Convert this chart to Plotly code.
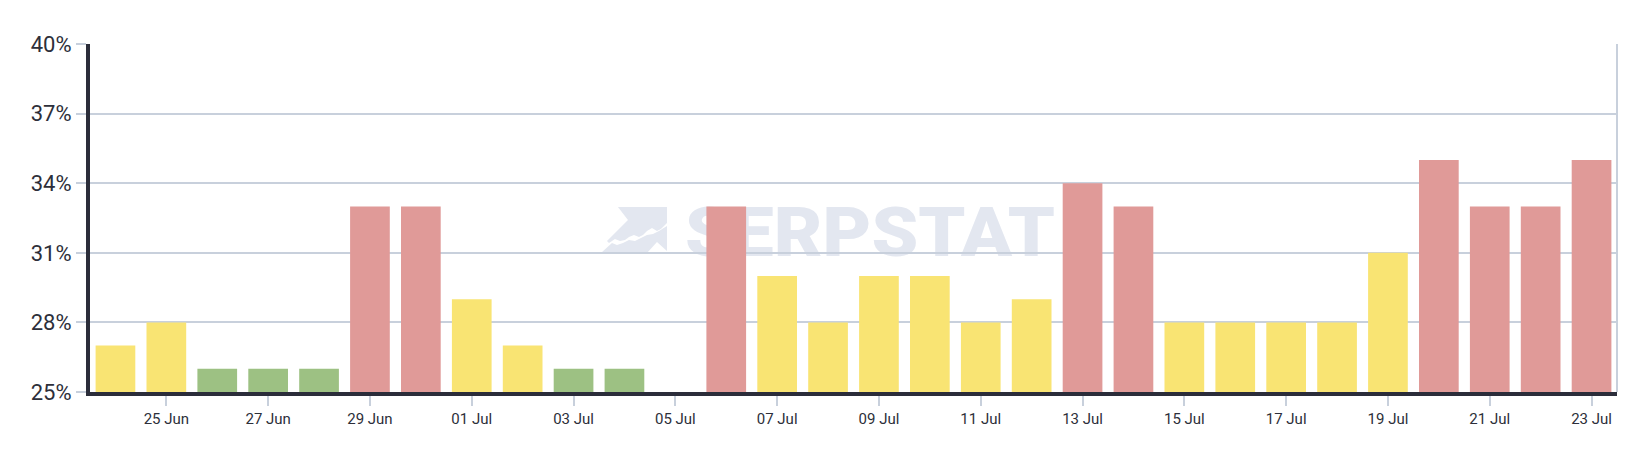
import plotly.graph_objects as go
import base64

dates = ["2023-06-24","2023-06-25","2023-06-26","2023-06-27","2023-06-28","2023-06-29","2023-06-30",
         "2023-07-01","2023-07-02","2023-07-03","2023-07-04","2023-07-05","2023-07-06","2023-07-07",
         "2023-07-08","2023-07-09","2023-07-10","2023-07-11","2023-07-12","2023-07-13","2023-07-14",
         "2023-07-15","2023-07-16","2023-07-17","2023-07-18","2023-07-19","2023-07-20","2023-07-21",
         "2023-07-22","2023-07-23"]
values = [27,28,26,26,26,33,33,29,27,26,26,None,33,30,28,30,30,28,29,34,33,28,28,28,28,31,35,33,33,35]
levels = ["mid","mid","low","low","low","high","high","mid","mid","low","low","none","high","mid",
          "mid","mid","mid","mid","mid","high","high","mid","mid","mid","mid","mid","high","high",
          "high","high"]
level_colors = {"low": "#9dc183", "mid": "#f9e473", "high": "#e09a98", "none": "#ffffff"}
tick_vals = ["2023-06-25","2023-06-27","2023-06-29","2023-07-01","2023-07-03","2023-07-05","2023-07-07",
             "2023-07-09","2023-07-11","2023-07-13","2023-07-15","2023-07-17","2023-07-19","2023-07-21",
             "2023-07-23"]
tick_text = ["25 Jun","27 Jun","29 Jun","01 Jul","03 Jul","05 Jul","07 Jul","09 Jul","11 Jul","13 Jul",
             "15 Jul","17 Jul","19 Jul","21 Jul","23 Jul"]
y_ticks = [25, 28, 31, 34, 37, 40]
y_tick_text = ["25%", "28%", "31%", "34%", "37%", "40%"]

fig = go.Figure()
fig.add_trace(go.Bar(
    x=dates, y=values,
    marker=dict(color=[level_colors[l] for l in levels], line=dict(width=0)),
    hoverinfo="skip",
))

svg = '''<svg xmlns="http://www.w3.org/2000/svg" width="470" height="62" viewBox="0 0 470 62">
<g fill="#e3e7f0">
<path d="M23 7 L72 7 L72 23 L66 29 L62 31 L57 28 L52 31 L48 35 L44 37 L39 35 L34 37 L30 40 L25 41 L20 39 L14 43 L12 41 L33 20 Z"/>
<path d="M6 53 L17 43 L22 45 L28 43 L34 40 L40 41 L46 38 L52 35 L58 34 L64 31 L72 26 L72 51 L62 42 L52 53 Z"/>
<text x="90" y="56" font-family="Roboto, Arial, sans-serif" font-weight="900" font-size="68" textLength="370" lengthAdjust="spacingAndGlyphs">SERPSTAT</text>
</g></svg>'''
uri = "data:image/svg+xml;base64," + base64.b64encode(svg.encode()).decode()

fig.update_layout(
    width=1646, height=456,
    margin=dict(l=90, r=29, t=44, b=64),
    paper_bgcolor="white", plot_bgcolor="white",
    bargap=0.22, showlegend=False,
    font=dict(family="Roboto, Arial, sans-serif", color="#2d2f3a"),
    images=[dict(source=uri, xref="paper", yref="paper", x=0.3307, y=0.5517,
                 sizex=0.3078, sizey=0.178, xanchor="left", yanchor="top",
                 sizing="stretch", layer="below")],
    shapes=[dict(type="line", xref="paper", yref="paper", x0=1, x1=1, y0=0, y1=1,
                 line=dict(color="#c8d0dc", width=2))],
)
fig.update_xaxes(
    type="date", range=["2023-06-23 12:00", "2023-07-23 12:00"],
    tickvals=tick_vals, ticktext=tick_text,
    ticks="outside", ticklen=10, tickcolor="#c8d0dc", tickwidth=2,
    showline=True, linecolor="#2b2d3a", linewidth=4,
    showgrid=False, tickfont=dict(size=15, color="#2d2f3a"), zeroline=False,
)
fig.update_yaxes(
    range=[25, 40], tickvals=y_ticks, ticktext=y_tick_text,
    ticks="outside", ticklen=10, tickcolor="#c8d0dc", tickwidth=2,
    showline=True, linecolor="#2b2d3a", linewidth=4,
    showgrid=True, gridcolor="#c8d0dc", gridwidth=2, zeroline=False,
    tickfont=dict(size=22, color="#2d2f3a"),
)
fig.write_html("out.html", config={"displayModeBar": False},
               post_script="document.body.style.margin='0';")
